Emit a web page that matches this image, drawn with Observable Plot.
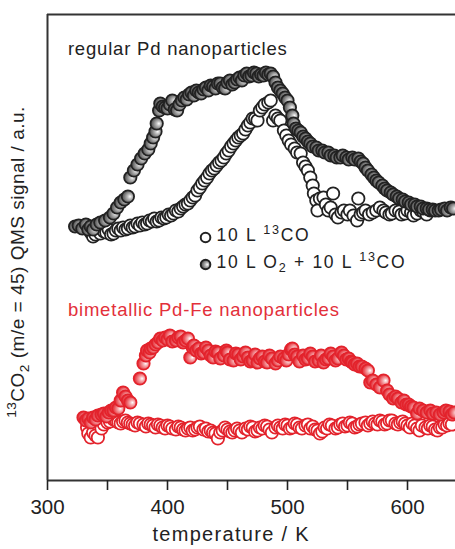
<!DOCTYPE html>
<html><head><meta charset="utf-8">
<script src="https://cdn.jsdelivr.net/npm/d3@7"></script>
<script src="https://cdn.jsdelivr.net/npm/@observablehq/plot@0.6"></script>
<style>body{margin:0;background:#fff;} svg{display:block}</style>
</head><body><div id="chart"></div>
<script>
// [temperature K, 13CO2 signal a.u.]
const pdCO = [[336,248],[338,244],[340,246],[342,250],[344,247],[347,249],[349,248],[351,251],[353,246],[355,247],[357,250],[359,252],[361,250],[363,253],[365,251],[367,252],[369,255],[371,253],[373,254],[375,257],[377,255],[379,258],[381,256],[383,257],[385,260],[387,259],[389,262],[391,259],[393,260],[395,263],[397,262],[399,263],[401,266],[403,265],[405,267],[407,270],[409,269],[411,272],[413,274],[415,276],[417,277],[419,280],[421,283],[423,285],[425,290],[427,293],[429,297],[431,300],[433,303],[435,307],[437,310],[439,312],[441,315],[443,318],[445,320],[447,323],[449,327],[451,330],[453,334],[455,337],[457,340],[459,343],[461,345],[463,347],[465,351],[467,355],[469,358],[471,362],[473,362],[475,360],[477,370],[479,373],[481,376],[484,378],[486,380],[488,360],[490,365],[492,362],[494,360],[497,350],[499,345],[501,340],[503,336],[506,332],[508,328],[511,327],[513,318],[515,314],[517,310],[519,303],[521,295],[522,287],[524,280],[525,270],[527,282],[530,283],[532,276],[534,270],[536,273],[538,287],[540,266],[542,263],[545,268],[547,270],[550,266],[552,270],[555,265],[558,260],[559,282],[561,266],[563,268],[565,270],[568,266],[571,268],[574,270],[577,273],[580,270],[582,268],[585,266],[587,267],[590,270],[593,269],[595,266],[598,267],[600,270],[603,268],[605,265],[608,267],[611,270],[613,269],[616,266],[619,270]];
const pdO2CO = [[323,254],[326,255],[329,252],[332,256],[334,251],[336,254],[338,251],[341,256],[344,258],[348,260],[352,263],[355,267],[358,273],[361,278],[364,281],[367,284],[369,303],[372,310],[375,316],[378,322],[381,327],[384,331],[386,337],[388,343],[390,349],[391,357],[393,370],[394,377],[396,374],[398,373],[400,372],[402,376],[404,380],[406,371],[408,370],[410,376],[412,380],[414,383],[416,381],[418,386],[420,388],[422,385],[424,390],[426,388],[428,387],[430,391],[432,393],[434,390],[436,395],[438,394],[440,392],[442,397],[444,397],[446,393],[448,392],[450,398],[452,400],[454,396],[456,398],[458,401],[460,403],[462,400],[464,405],[466,407],[468,404],[470,405],[472,408],[474,407],[476,404],[478,406],[480,405],[482,408],[484,406],[486,407],[488,404],[490,398],[492,393],[494,390],[496,387],[498,383],[500,380],[502,373],[504,365],[505,357],[507,352],[509,350],[511,348],[513,344],[515,342],[517,339],[519,337],[521,334],[524,333],[526,330],[529,330],[531,328],[534,328],[536,325],[539,325],[541,323],[544,323],[546,325],[549,323],[551,321],[554,323],[556,321],[559,322],[561,319],[563,317],[565,313],[567,310],[570,306],[572,303],[574,300],[576,298],[579,295],[581,292],[583,290],[586,288],[588,286],[591,284],[593,282],[596,281],[598,279],[601,278],[603,276],[606,276],[608,274],[611,274],[613,272],[616,272],[618,271],[621,271],[623,270],[626,270],[628,271],[631,272],[633,270],[636,273],[638,272]];
const pdfeCO = [[333,53],[334,47],[336,43],[338,48],[340,45],[342,43],[345,52],[347,56],[350,58],[352,59],[355,61],[357,60],[359,58],[361,57],[363,59],[365,60],[367,58],[369,57],[371,56],[373,55],[375,58],[377,57],[380,56],[382,54],[384,57],[386,56],[388,55],[390,53],[392,56],[394,55],[396,53],[398,52],[400,55],[402,54],[404,52],[407,51],[409,54],[411,53],[413,51],[415,50],[417,52],[419,53],[421,50],[423,51],[425,53],[427,54],[430,51],[432,52],[434,49],[436,50],[438,48],[440,47],[442,42],[444,48],[446,50],[448,53],[450,51],[452,49],[454,48],[456,50],[458,52],[460,50],[462,48],[465,52],[467,51],[469,54],[471,53],[473,49],[475,50],[477,53],[479,52],[481,55],[483,54],[485,51],[487,48],[490,53],[492,55],[494,53],[496,52],[498,56],[500,55],[502,52],[504,53],[506,57],[508,56],[510,53],[512,52],[515,55],[517,56],[519,52],[521,54],[523,51],[525,50],[527,47],[529,49],[531,53],[533,52],[535,56],[537,55],[540,52],[542,53],[544,56],[546,57],[548,54],[550,55],[552,58],[554,57],[556,53],[558,54],[560,56],[562,57],[565,58],[567,55],[569,57],[571,59],[573,57],[575,56],[577,60],[579,59],[581,56],[583,57],[585,60],[587,60],[590,57],[592,56],[594,58],[596,59],[598,57],[600,55],[602,53],[604,57],[606,55],[608,52],[610,50],[612,55],[615,53],[617,52],[619,55],[621,54],[623,51],[625,50],[627,53],[629,53],[631,56],[633,55],[635,57],[637,56]];
const pdfeO2CO = [[330,63],[332,60],[334,62],[336,58],[338,63],[340,61],[342,65],[345,66],[347,67],[349,64],[351,68],[353,70],[355,70],[357,73],[359,72],[361,80],[363,88],[365,84],[367,80],[369,78],[377,102],[380,117],[382,125],[383,130],[385,128],[386,132],[388,133],[390,136],[392,138],[394,142],[396,140],[398,143],[400,141],[402,145],[404,139],[407,140],[409,143],[411,144],[413,138],[415,140],[417,142],[419,123],[421,133],[422,135],[424,130],[426,132],[428,127],[430,128],[432,133],[434,130],[436,125],[438,123],[440,129],[442,128],[444,122],[447,125],[449,130],[450,128],[452,121],[455,120],[457,127],[459,126],[461,121],[463,124],[465,128],[467,123],[469,119],[471,120],[473,126],[475,118],[477,122],[479,124],[481,119],[483,118],[485,125],[487,122],[490,117],[492,120],[494,124],[497,122],[499,120],[501,126],[503,131],[504,132],[506,126],[508,124],[510,119],[513,125],[515,121],[517,122],[519,127],[521,124],[523,119],[526,120],[528,125],[530,118],[532,121],[534,122],[536,127],[538,124],[540,120],[542,122],[545,128],[547,125],[549,121],[551,122],[553,119],[554,118],[556,116],[558,117],[560,114],[562,114],[565,112],[567,110],[569,98],[571,100],[574,96],[577,93],[580,100],[583,90],[585,86],[588,82],[590,84],[592,82],[595,78],[597,80],[599,76],[601,76],[603,74],[605,73],[608,67],[610,72],[613,70],[616,68],[619,70],[621,67],[624,68],[627,66],[630,68],[632,70],[635,69],[637,66],[639,68]];

const xTicksMajor = [300, 400, 500, 600];
const xTicksMinor = [350, 450, 550];
const xLabel = "temperature / K";
const panelTitles = [
  {t: 317, s: 431, text: "regular Pd nanoparticles", color: "#222"},
  {t: 317, s: 170, text: "bimetallic Pd-Fe nanoparticles", color: "#e3303a"}
];
const legendItems = [
  {t: 431.7, s: 243, text: "10 L 13CO", kind: "open"},
  {t: 431.7, s: 216, text: "10 L O2 + 10 L 13CO", kind: "filled"}
];
const richText = {
  "10 L 13CO": [["10 L ",""],["13","sup"],["CO",""]],
  "10 L O2 + 10 L 13CO": [["10 L O",""],["2","sub"],[" + 10 L ",""],["13","sup"],["CO",""]]
};
const yLabelSegments = [["13","sup"],["CO",""],["2","sub"],[" (m/e = 45) QMS signal / a.u.",""]];

const rows = a => a.map(([t, s]) => ({t, s}));
const FONT = "'Liberation Sans', Arial, Helvetica, sans-serif";
const INK = "#222";

const dotOpts = {x: "t", y: "s", r: 6.2, strokeWidth: 1.8};

const plot = Plot.plot({
  width: 455, height: 549,
  marginTop: 14, marginLeft: 47, marginRight: 0, marginBottom: 69,
  x: {domain: [300, 640]},
  y: {domain: [0, 466], axis: null},
  style: {fontFamily: FONT, fontSize: "18px", color: INK, background: "#fff", overflow: "visible"},
  marks: [
    Plot.ruleY([466], {stroke: "#333", strokeWidth: 2}),
    Plot.ruleX([300], {stroke: "#333", strokeWidth: 2}),
    Plot.ruleY([0], {stroke: "#333", strokeWidth: 2}),
    Plot.axisX({ticks: xTicksMajor, tickSize: 10, tickPadding: 9, fontSize: 20.5, label: null, strokeWidth: 1.6}),
    Plot.axisX({ticks: xTicksMinor, tickSize: 10, tickFormat: () => "", label: null, strokeWidth: 1.6}),
    Plot.text([xLabel], {x: () => 453, frameAnchor: "bottom", dy: 60, fontSize: 20, fill: INK}),
    Plot.dot(rows(pdCO), {...dotOpts, fill: "#fff", stroke: INK}),
    Plot.dot(rows(pdO2CO), {...dotOpts, fill: "url(#gradGray)", stroke: INK}),
    Plot.dot(rows(pdfeCO), {...dotOpts, fill: "#fff", stroke: "#e3232c"}),
    Plot.dot(rows(pdfeO2CO), {...dotOpts, fill: "url(#gradRed)", stroke: "#e3232c"}),
    Plot.text(panelTitles, {x: "t", y: "s", text: "text", fill: "color", textAnchor: "start", fontSize: 18.5}),
    Plot.dot(legendItems, {x: "t", y: "s", r: 4.8, strokeWidth: 2, stroke: INK, fill: d => d.kind === "open" ? "#fff" : "url(#gradGray)"}),
    Plot.text(legendItems, {x: "t", y: "s", text: "text", dx: 11, dy: -2, textAnchor: "start", fontSize: 17.5, fill: INK})
  ]
});

const svg = d3.select(plot);
const defs = svg.insert("defs", ":first-child");
function grad(id, stops) {
  const g = defs.append("radialGradient").attr("id", id)
    .attr("cx", "0.62").attr("cy", "0.55").attr("r", "0.62").attr("fx", "0.68").attr("fy", "0.5");
  stops.forEach(([o, c]) => g.append("stop").attr("offset", o).attr("stop-color", c));
}
grad("gradGray", [[0, "#ffffff"], [0.3, "#bcbcbc"], [0.7, "#777"], [1, "#4a4a4a"]]);
grad("gradRed", [[0, "#ffffff"], [0.3, "#f6aeb1"], [0.75, "#ea4d55"], [1, "#e02a33"]]);

// letter spacing to match the wider setting of the original lettering
svg.selectAll("text").each(function () {
  const key = this.textContent;
  if (key === xLabel) d3.select(this).attr("letter-spacing", 1.3);
  if (panelTitles.some(p => p.text === key)) d3.select(this).attr("letter-spacing", 0.8);
});

function richify(el, segs, size) {
  const t = d3.select(el);
  t.text(null);
  let shift = 0;
  segs.forEach(([str, kind]) => {
    const sp = t.append("tspan").text(str);
    let target = kind === "sup" ? -0.42 * size : kind === "sub" ? 0.25 * size : 0;
    if (target !== shift) sp.attr("dy", target - shift);
    shift = target;
    if (kind) sp.attr("font-size", size * 0.72);
  });
}
svg.selectAll("text").each(function () {
  const key = this.textContent;
  if (richText[key]) { richify(this, richText[key], 17.5); d3.select(this).attr("letter-spacing", 1.7); }
});

const yl = svg.append("text")
  .attr("transform", "translate(24,262) rotate(-90)")
  .attr("text-anchor", "middle")
  .attr("font-size", 19)
  .attr("letter-spacing", 0.5)
  .attr("fill", INK)
  .attr("font-family", FONT);
richify(yl.node(), yLabelSegments, 19);

document.getElementById("chart").appendChild(plot);
</script>
</body></html>
